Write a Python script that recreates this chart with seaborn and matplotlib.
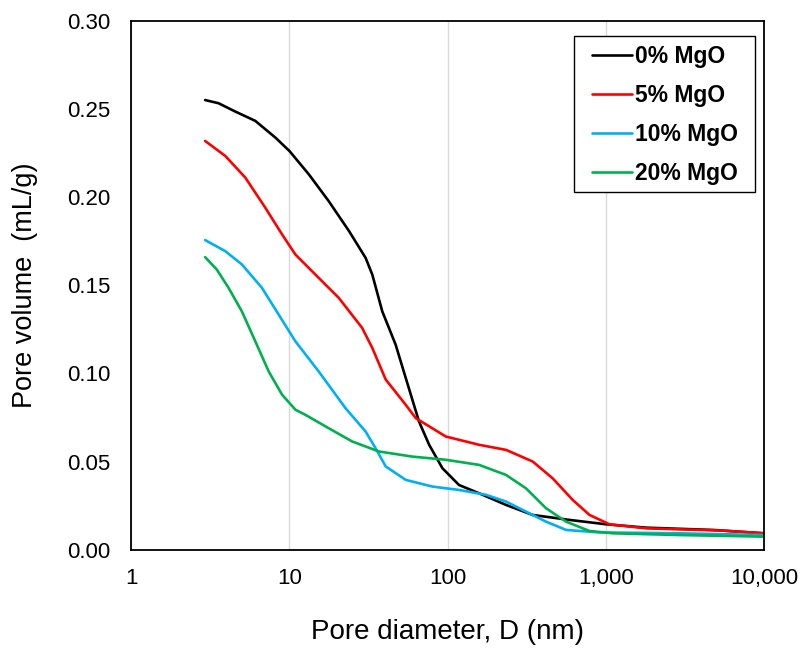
import numpy as np
import pandas as pd
import seaborn as sns
import matplotlib.pyplot as plt
from matplotlib.patches import Rectangle
from matplotlib.ticker import FixedLocator, FixedFormatter

# %% data
d_0 = [2.93, 3.56, 4.54, 6.08, 8.15, 10.0, 13.25, 17.7, 23.8, 30.3, 33.4, 38.6, 46.9, 54.3,
       65.9, 76.4, 92.7, 118, 158, 234, 345, 589, 1007, 1803, 4775, 10000]
v_0 = [0.255, 0.2532, 0.2485, 0.2432, 0.2337, 0.2261, 0.2129, 0.1977, 0.1807, 0.1655, 0.156,
       0.1352, 0.1163, 0.0975, 0.0727, 0.0595, 0.0462, 0.0367, 0.032, 0.0254, 0.0197, 0.0169,
       0.0144, 0.0125, 0.0112, 0.0093]

d_5 = [2.93, 3.93, 5.26, 7.04, 8.98, 10.9, 14.6, 20.5, 28.8, 33.4, 40.6, 54.3, 62.9, 97.3,
       158, 234, 345, 461, 618, 789, 1056, 1803, 5520, 10000]
v_5 = [0.2318, 0.2233, 0.211, 0.1939, 0.1788, 0.1674, 0.156, 0.1428, 0.1258, 0.1144, 0.0965,
       0.0822, 0.0746, 0.0642, 0.0595, 0.0566, 0.05, 0.0405, 0.0282, 0.0197, 0.0144, 0.0121,
       0.0108, 0.0093]

d_10 = [2.93, 3.93, 5.0, 6.7, 8.55, 10.9, 15.3, 22.6, 30.3, 35, 40.6, 54.3, 80.1, 118, 175,
        234, 313, 419, 561, 912, 2930, 10000]
v_10 = [0.1756, 0.1693, 0.1618, 0.1485, 0.1333, 0.1182, 0.1011, 0.0803, 0.067, 0.0576, 0.0472,
        0.0396, 0.0358, 0.0339, 0.0311, 0.0273, 0.0216, 0.0159, 0.0112, 0.0098, 0.0093, 0.0083]

d_20 = [2.93, 3.47, 4.12, 5.0, 6.08, 7.39, 8.98, 10.9, 12.6, 17.7, 24.9, 36.8, 59.8, 97.3,
        158, 234, 313, 419, 561, 789, 1110, 2930, 10000]
v_20 = [0.1659, 0.1589, 0.1485, 0.1352, 0.1182, 0.1011, 0.0879, 0.0794, 0.0765, 0.0689, 0.0614,
        0.0557, 0.0528, 0.051, 0.0481, 0.0424, 0.0348, 0.0235, 0.0159, 0.0106, 0.0093, 0.0083,
        0.0074]

labels = ['0% MgO', '5% MgO', '10% MgO', '20% MgO']
colores = ['#000000', '#ff0000', '#00b0f0', '#00b050']
xticks = [1, 10, 100, 1000, 10000]
xtick_labels = ['1', '10', '100', '1,000', '10,000']
yticks = [0.00, 0.05, 0.10, 0.15, 0.20, 0.25, 0.30]
# %%
frames = []
for lab, d, v in zip(labels, [d_0, d_5, d_10, d_20], [v_0, v_5, v_10, v_20]):
    frames.append(pd.DataFrame({'D': d, 'V': v, 'serie': lab}))
df = pd.concat(frames, ignore_index=True)
# %%
sns.set_style('white')
plt.rcParams['font.family'] = ['Liberation Sans', 'DejaVu Sans']
plt.rcParams['text.color'] = 'black'
plt.rcParams['axes.labelcolor'] = 'black'

fig = plt.figure(figsize=(8.02, 6.49), dpi=100)
ax = fig.add_axes([0.1637, 0.1530, 0.7889, 0.8151])

sns.lineplot(data=df, x='D', y='V', hue='serie', hue_order=labels,
             palette=colores, linewidth=1.9, ax=ax, sort=True, estimator=None)

ax.set_xscale('log')
ax.set_xlim(1, 10000)
ax.set_ylim(0, 0.30)
ax.xaxis.set_major_locator(FixedLocator(xticks))
ax.xaxis.set_major_formatter(FixedFormatter(xtick_labels))
ax.xaxis.set_minor_locator(FixedLocator([]))
ax.set_yticks(yticks)
ax.set_yticklabels([f'{y:.2f}' for y in yticks])
ax.tick_params(axis='both', length=0, labelsize=16, colors='black')
ax.tick_params(axis='y', pad=15)
ax.tick_params(axis='x', pad=13)
ax.grid(axis='x', color='#d9d9d9', linewidth=1)
ax.grid(axis='y', visible=False)
for s in ax.spines.values():
    s.set_visible(True)
    s.set_color('black')
    s.set_linewidth(1.3)

ax.set_xlabel('Pore diameter, D (nm)', fontsize=20, labelpad=22)
ax.set_ylabel('Pore volume  (mL/g)', fontsize=19.5, labelpad=21)

# legend entries without frame, frame drawn as a box
leg = ax.legend(loc='upper left', bbox_to_anchor=(0.7277, 0.954), borderaxespad=0,
                frameon=False, prop={'weight': 'bold', 'size': 16.5}, handlelength=1.75,
                handletextpad=0.12, labelspacing=0.7, borderpad=0)
for h in leg.get_lines():
    h.set_linewidth(1.9)
for t in leg.get_texts():
    t.set_color('black')
ax.add_patch(Rectangle((0.6997, 0.6756), 0.2856, 0.2960, transform=ax.transAxes,
                       fill=True, facecolor='white', edgecolor='black', linewidth=1.0,
                       zorder=4))
leg.set_zorder(5)

fig.savefig('out.png', dpi=100)
